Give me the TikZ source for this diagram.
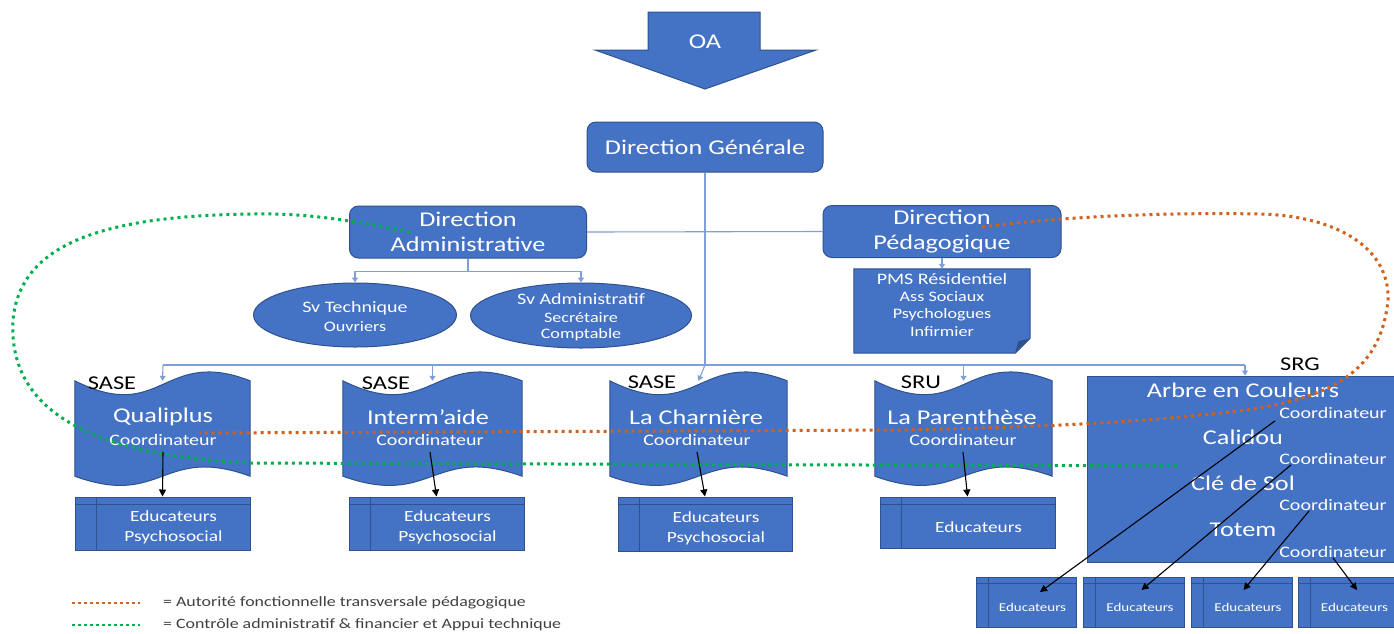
\documentclass[tikz,border=0pt]{standalone}
\usepackage{fontspec}
\setmainfont[FakeStretch=1.25]{Carlito}
\usetikzlibrary{shapes.geometric,arrows.meta,calc}
\definecolor{boxblue}{RGB}{68,114,196}
\definecolor{boxedge}{RGB}{47,82,143}
\definecolor{linkblue}{RGB}{128,158,216}
\definecolor{orgdot}{RGB}{208,98,28}
\definecolor{grndot}{RGB}{0,176,80}
\definecolor{legtext}{RGB}{64,64,64}
\newcommand\fsz[1]{\fontsize{#1}{#1}\selectfont}
\newcommand\tapebox[5]{%
  \node[minimum width=#4pt,minimum height=#5pt,inner sep=0pt] (#1) at (#2,#3) {};
  \path[boxfill] (#1.north west) .. controls ($(#1.north)+(0,44)$) and ($(#1.north)+(0,-34)$) .. (#1.north east)
    -- (#1.south east) .. controls ($(#1.south)+(0,-32)$) and ($(#1.south)+(0,32)$) .. (#1.south west) -- cycle;}
\newcommand\edubox[7]{%
  \node[boxfill,minimum width=#4pt,minimum height=#5pt,inner sep=0pt] (#1) at (#2,#3) {};
  \draw[innerln] ($(#1.north west)+(#6,0)$) -- ($(#1.south west)+(#6,0)$);
  \draw[innerln] ($(#1.north west)+(0,#7)$) -- ($(#1.north east)+(0,#7)$);}
\begin{document}
\begin{tikzpicture}[x=1pt,y=-1pt,
  boxfill/.style={fill=boxblue,draw=boxedge,line width=1pt},
  rbox/.style={boxfill,rounded corners=9pt,text=white,align=center,inner sep=0pt},
  wt/.style={text=white,inner sep=0pt,align=center},
  bt/.style={text=black,inner sep=0pt},
  lt/.style={text=legtext,inner sep=0pt,anchor=west,font=\fsz{14.3}},
  innerln/.style={draw=boxedge,line width=1pt},
  link/.style={draw=linkblue,line width=1.1pt},
  linkarr/.style={link,-{Triangle[width=6pt,length=5pt]}},
  blk/.style={draw=black,line width=1.1pt,-{Triangle[width=7pt,length=7pt]}},
  odot/.style={draw=orgdot,line width=3pt,dash pattern=on 3pt off 4pt},
  gdot/.style={draw=grndot,line width=3pt,dash pattern=on 3pt off 4pt},
  odotl/.style={draw=orgdot,line width=2.5pt,dash pattern=on 2.5pt off 3.5pt},
  gdotl/.style={draw=grndot,line width=2.5pt,dash pattern=on 2.5pt off 3.5pt}]
\useasboundingbox[fill=white] (0,0) rectangle (1394,633);

% OA arrow
\path[boxfill] (648,12) -- (760,12) -- (760,50) -- (816,50) -- (705,89) -- (595,50) -- (648,50) -- cycle;
\node[wt,font=\fsz{21}] (oa) at (705,42) {OA};

% Directions
\node[rbox,minimum width=236pt,minimum height=50pt,font=\fsz{21}] (dg) at (705,147) {Direction Générale};
\node[rbox,minimum width=237pt,minimum height=52pt,font=\fontsize{21}{25}\selectfont] (da) at (468,232) {Direction\\Administrative};
\node[rbox,minimum width=238pt,minimum height=52pt,font=\fontsize{21}{25}\selectfont] (dp) at (942,231.5) {Direction\\Pédagogique};

% services
\node[ellipse,boxfill,minimum width=203pt,minimum height=64pt,inner sep=0pt] (svt) at (355,315) {};
\node[wt,font=\fsz{16}] (svt1) at (355,308) {Sv Technique};
\node[wt,font=\fsz{14.5}] (svt2) at (355,327) {Ouvriers};
\node[ellipse,boxfill,minimum width=221pt,minimum height=65pt,inner sep=0pt] (sva) at (581,315.5) {};
\node[wt,font=\fsz{16}] (sva1) at (581,299) {Sv Administratif};
\node[wt,font=\fsz{14.5}] (sva2) at (581,318) {Secrétaire};
\node[wt,font=\fsz{14.5}] (sva3) at (581,335) {Comptable};

% PMS
\node[minimum width=176pt,minimum height=84pt,inner sep=0pt] (pms) at (942,311) {};
\path[boxfill] (pms.north west) -- (pms.north east) -- ($(pms.south east)+(0,-15)$) -- ($(pms.south east)+(-15,0)$) -- (pms.south west) -- cycle;
\path[fill=boxedge] ($(pms.south east)+(0,-15)$) -- ($(pms.south east)+(-12,-12)$) -- ($(pms.south east)+(-15,0)$) -- cycle;
\node[wt,font=\fsz{16}] (pms1) at (942,279) {PMS Résidentiel};
\node[wt,font=\fsz{14.5}] (pms2) at (942,297) {Ass Sociaux};
\node[wt,font=\fsz{14.5}] (pms3) at (942,315) {Psychologues};
\node[wt,font=\fsz{14.5}] (pms4) at (942,332) {Infirmier};

% connectors (light blue)
\coordinate (busL) at (163,365);
\coordinate (busR) at (1245,365);
\draw[link] (da.east) -- (dp.west);
\draw[linkarr] (da.south) -- ++(0,13) -| (svt.north);
\draw[linkarr] (da.south) -- ++(0,13) -| (sva.north);
\draw[linkarr] (dp.south) -- (pms.north);

% units
\tapebox{q1}{162.5}{428.5}{175}{95}
\tapebox{q2}{432.5}{428.5}{179}{95}
\tapebox{q3}{698.5}{428.5}{177}{95}
\tapebox{q4}{963.5}{428.5}{177}{95}
\node[boxfill,minimum width=311pt,minimum height=186pt,inner sep=0pt] (srg) at (1242.5,469) {};

\draw[link] (dg.south) -- (dg.south |- busL);
\draw[link] (busL) -- (busR);
\draw[linkarr] (busL) -- (q1.north);
\draw[linkarr] (q2.north |- busL) -- (q2.north);
\draw[linkarr] (dg.south |- busL) -- (q3.north);
\draw[linkarr] (q4.north |- busL) -- (q4.north);
\draw[linkarr] (busR) -- (busR |- srg.north);

\node[bt,font=\fsz{19.5}] (l1) at (112,383) {SASE};
\node[bt,font=\fsz{19.5}] (l2) at (386,383) {SASE};
\node[bt,font=\fsz{19.5}] (l3) at (652,382) {SASE};
\node[bt,font=\fsz{19.5}] (l4) at (921,382) {SRU};
\node[bt,font=\fsz{19.5}] (l5) at (1300,364) {SRG};

\node[wt,font=\fsz{21}] (q1t) at (163,417) {Qualiplus};
\node[wt,font=\fsz{16}] (q1c) at (163,440) {Coordinateur};
\node[wt,font=\fsz{21}] (q2t) at (428,417) {Interm’aide};
\node[wt,font=\fsz{16}] (q2c) at (430,440) {Coordinateur};
\node[wt,font=\fsz{21}] (q3t) at (696,417) {La Charnière};
\node[wt,font=\fsz{16}] (q3c) at (697,440) {Coordinateur};
\node[wt,font=\fsz{21}] (q4t) at (962,417) {La Parenthèse};
\node[wt,font=\fsz{16}] (q4c) at (963,440) {Coordinateur};

\node[wt,font=\fsz{21}] (s1) at (1243,390) {Arbre en Couleurs};
\node[wt,font=\fsz{16}] (c1) at (1333,413) {Coordinateur};
\node[wt,font=\fsz{21}] (s2) at (1243,437) {Calidou};
\node[wt,font=\fsz{16}] (c2) at (1333,459) {Coordinateur};
\node[wt,font=\fsz{21}] (s3) at (1243,483) {Clé de Sol};
\node[wt,font=\fsz{16}] (c3) at (1333,505) {Coordinateur};
\node[wt,font=\fsz{21}] (s4) at (1243,530) {Totem};
\node[wt,font=\fsz{16}] (c4) at (1333,552) {Coordinateur};

% educateurs
\edubox{e1}{162.5}{523.5}{175}{53}{22}{8}
\edubox{e2}{436.5}{523.5}{175}{53}{22}{8}
\edubox{e3}{705}{524}{174}{54}{22}{8}
\edubox{e4}{967.5}{522.5}{175}{51}{22}{8}
\node[wt,font=\fontsize{15.5}{20}\selectfont] (e1t) at ($(e1)+(11,4)$) {Educateurs\\Psychosocial};
\node[wt,font=\fontsize{15.5}{20}\selectfont] (e2t) at ($(e2)+(11,4)$) {Educateurs\\Psychosocial};
\node[wt,font=\fontsize{15.5}{20}\selectfont] (e3t) at ($(e3)+(11,4)$) {Educateurs\\Psychosocial};
\node[wt,font=\fsz{15.5}] (e4t) at ($(e4)+(11,4.5)$) {Educateurs};
\edubox{se1}{1026}{602}{100}{50}{13}{7}
\edubox{se2}{1133.5}{602}{101}{50}{13}{7}
\edubox{se3}{1241.5}{602}{101}{50}{13}{7}
\edubox{se4}{1348}{602}{100}{50}{13}{7}
\node[wt,font=\fsz{12}] (se1t) at ($(se1)+(6.5,5)$) {Educateurs};
\node[wt,font=\fsz{12}] (se2t) at ($(se2)+(6.5,5)$) {Educateurs};
\node[wt,font=\fsz{12}] (se3t) at ($(se3)+(6.5,5)$) {Educateurs};
\node[wt,font=\fsz{12}] (se4t) at ($(se4)+(6.5,5)$) {Educateurs};

% dotted relations
\draw[gdot] (410,232) .. controls (340,218) and (300,213) .. (250,214)
  .. controls (100,216) and (20,245) .. (13,320)
  .. controls (8,405) and (80,455) .. (250,463) -- (1180,466);
\draw[odot] (982,227) .. controls (1050,218) and (1150,212) .. (1260,214)
  .. controls (1340,216) and (1390,250) .. (1388,300)
  .. controls (1380,380) and (1320,405) .. (1200,415)
  .. controls (1120,424) and (1000,428) .. (900,430) -- (200,433);

% black arrows
\draw[blk] ($(q1c.south)+(0,6)$) -- (e1.north);
\draw[blk] ($(q2c.south)+(0,6)$) -- (e2.north);
\draw[blk] ($(q3c.south)+(0,6)$) -- (e3.north);
\draw[blk] ($(q4c.south)+(0,6)$) -- (e4.north);
\draw[blk] ($(c1.south west)+(-4,2)$) -- ($(se1.center)+(14,-10)$);
\draw[blk] ($(c2.south west)+(12,0)$) -- ($(se2.center)+(8,-12)$);
\draw[blk] ($(c3.south west)+(30,0)$) -- ($(se3.center)+(2,-12)$);
\draw[blk] (c4.south) -- ($(se4.center)+(9,-12)$);

% legend
\draw[odotl] (72,603) -- (140,603);
\draw[gdotl] (72,625) -- (140,625);
\node[lt] (leg1) at (163,603) {= Autorité fonctionnelle transversale pédagogique};
\node[lt] (leg2) at (163,625) {= Contrôle administratif \& financier et Appui technique};
\end{tikzpicture}
\end{document}
